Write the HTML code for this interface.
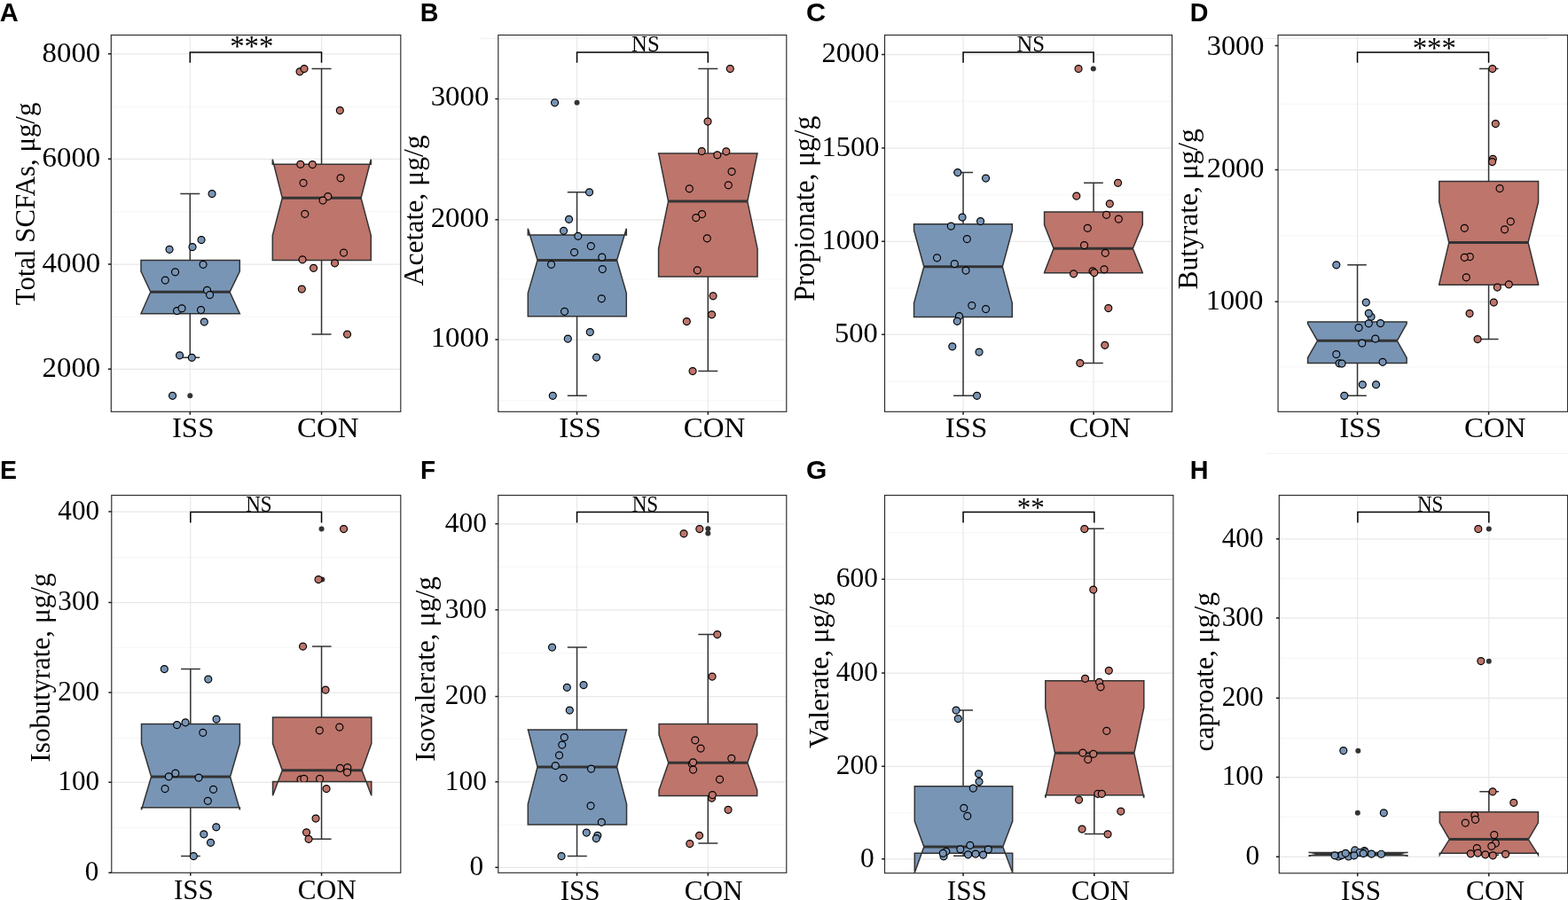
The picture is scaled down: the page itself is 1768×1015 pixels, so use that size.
<!DOCTYPE html>
<html lang="en"><head><meta charset="utf-8"><title>SCFA box plots</title>
<style>html,body{margin:0;padding:0;background:#fff}body{width:1768px;height:1015px;overflow:hidden}svg{display:block}.s{font-family:"Liberation Serif","DejaVu Serif",serif;fill:#000}.b{font-family:"Liberation Sans","DejaVu Sans",sans-serif;font-weight:bold;fill:#000}</style></head><body>
<svg width="1768" height="1015" viewBox="0 0 1768 1015" role="img" aria-label="Notched box plots of short-chain fatty acid concentrations, ISS versus CON">
<rect width="1768" height="1015" fill="#fff"/>
<g id="panel-A">
<g transform="translate(0.3 0.3)">
<clipPath id="clipA"><rect x="125" y="39.25" width="326.5" height="424.75"/></clipPath>
<g clip-path="url(#clipA)">
<line x1="125" x2="451.5" y1="120" y2="120" stroke="#f2f2f2" stroke-width="0.8"/>
<line x1="125" x2="451.5" y1="238.5" y2="238.5" stroke="#f2f2f2" stroke-width="0.8"/>
<line x1="125" x2="451.5" y1="357" y2="357" stroke="#f2f2f2" stroke-width="0.8"/>
<line x1="125" x2="451.5" y1="60.5" y2="60.5" stroke="#e8e8e8" stroke-width="1.15"/>
<line x1="125" x2="451.5" y1="179" y2="179" stroke="#e8e8e8" stroke-width="1.15"/>
<line x1="125" x2="451.5" y1="297.75" y2="297.75" stroke="#e8e8e8" stroke-width="1.15"/>
<line x1="125" x2="451.5" y1="416" y2="416" stroke="#e8e8e8" stroke-width="1.15"/>
<line x1="214" x2="214" y1="39.25" y2="464" stroke="#e8e8e8" stroke-width="1.15"/>
<line x1="362.25" x2="362.25" y1="39.25" y2="464" stroke="#e8e8e8" stroke-width="1.15"/>
<path d="M214 218.25V293.25M214 353.5V403M203 218.25H225M203 403H225" stroke="#333333" stroke-width="1.5" fill="none"/>
<polygon points="158.7,353.5 158.7,353.5 169.5,329 158.7,305.75 158.7,293.25 270,293.25 270,305.75 258.75,329 270,353.5 270,353.5" fill="#7895b6" stroke="#333333" stroke-width="1.5" stroke-linejoin="miter"/>
<line x1="169.5" x2="258.75" y1="329" y2="329" stroke="#333333" stroke-width="2.9"/>
<path d="M362.25 77.25V185M362.25 293.25V376.75M351.25 77.25H373.25M351.25 376.75H373.25" stroke="#333333" stroke-width="1.5" fill="none"/>
<polygon points="307,293.25 307,265.25 318,223 307,179.5 307,185 418,185 418,179.5 406.75,223 418,265.25 418,293.25" fill="#be756b" stroke="#333333" stroke-width="1.5" stroke-linejoin="miter"/>
<line x1="318" x2="406.75" y1="223" y2="223" stroke="#333333" stroke-width="2.9"/>
<circle cx="214" cy="446" r="3" fill="#333333"/>
<g fill="#7895b6" stroke="#000" stroke-width="1.15">
<circle cx="238.75" cy="218.25" r="4"/>
<circle cx="226.75" cy="270.25" r="4"/>
<circle cx="190.75" cy="281" r="4"/>
<circle cx="216.75" cy="278.25" r="4"/>
<circle cx="228.75" cy="298" r="4"/>
<circle cx="197.25" cy="306.5" r="4"/>
<circle cx="186" cy="315.75" r="4"/>
<circle cx="233.25" cy="327" r="4"/>
<circle cx="236.25" cy="332.25" r="4"/>
<circle cx="199.25" cy="350.25" r="4"/>
<circle cx="204.75" cy="347.5" r="4"/>
<circle cx="226.25" cy="349.25" r="4"/>
<circle cx="230" cy="362.75" r="4"/>
<circle cx="202.25" cy="400.5" r="4"/>
<circle cx="216" cy="403" r="4"/>
<circle cx="194.25" cy="446" r="4"/>
</g>
<g fill="#be756b" stroke="#000" stroke-width="1.15">
<circle cx="337.75" cy="80.5" r="4"/>
<circle cx="342.75" cy="77.25" r="4"/>
<circle cx="383" cy="124.25" r="4"/>
<circle cx="338.5" cy="185" r="4"/>
<circle cx="352" cy="185.25" r="4"/>
<circle cx="383.75" cy="200.5" r="4"/>
<circle cx="341.75" cy="206" r="4"/>
<circle cx="369.5" cy="221.25" r="4"/>
<circle cx="363.75" cy="225.75" r="4"/>
<circle cx="343.5" cy="241" r="4"/>
<circle cx="387.25" cy="284.75" r="4"/>
<circle cx="340.75" cy="292.5" r="4"/>
<circle cx="377.25" cy="296.5" r="4"/>
<circle cx="353.25" cy="302" r="4"/>
<circle cx="340" cy="325.75" r="4"/>
<circle cx="391.25" cy="376.75" r="4"/>
</g>
<path d="M214 70.4V58.75H362.25V70.4" stroke="#000" stroke-width="1.5" fill="none"/>
</g>
<rect x="125" y="39.25" width="326.5" height="424.75" fill="none" stroke="#2a2a2a" stroke-width="1.15"/>
<path d="M121.6 60.5H125M121.6 179H125M121.6 297.75H125M121.6 416H125M214 464V467.4M362.25 464V467.4" stroke="#1a1a1a" stroke-width="1.5" fill="none"/>
</g>
<text class="s" font-size="32.8" text-anchor="middle" transform="translate(283.75 62.6) scale(1 1)">***</text>
<g class="s" font-size="31.3" text-anchor="end">
<text transform="translate(113.3 69.5) scale(1.05 1)">8000</text>
<text transform="translate(113.3 188) scale(1.05 1)">6000</text>
<text transform="translate(113.3 306.75) scale(1.05 1)">4000</text>
<text transform="translate(113.3 425) scale(1.05 1)">2000</text>
</g>
<g class="s" font-size="30.8" text-anchor="middle">
<text transform="translate(217.7 492.75) scale(1.07 1)">ISS</text>
<text transform="translate(369.75 492.75) scale(1.07 1)">CON</text>
</g>
<text class="s" font-size="30.8" text-anchor="middle" transform="translate(38.6 230) rotate(-90) scale(1 1.045)">Total SCFAs, μg/g</text>
<text class="b" font-size="30" transform="translate(-0.3 24.15) scale(0.97 1)">A</text>
</g>
<g id="panel-B">
<g transform="translate(0.3 0.3)">
<clipPath id="clipB"><rect x="561.5" y="39.25" width="325" height="424.75"/></clipPath>
<line x1="542" x2="867" y1="43" y2="43" stroke="#efefef" stroke-width="1"/>
<g clip-path="url(#clipB)">
<line x1="561.5" x2="886.5" y1="179.2" y2="179.2" stroke="#f2f2f2" stroke-width="0.8"/>
<line x1="561.5" x2="886.5" y1="314.75" y2="314.75" stroke="#f2f2f2" stroke-width="0.8"/>
<line x1="561.5" x2="886.5" y1="451.5" y2="451.5" stroke="#f2f2f2" stroke-width="0.8"/>
<line x1="561.5" x2="886.5" y1="111.25" y2="111.25" stroke="#e8e8e8" stroke-width="1.15"/>
<line x1="561.5" x2="886.5" y1="247.5" y2="247.5" stroke="#e8e8e8" stroke-width="1.15"/>
<line x1="561.5" x2="886.5" y1="382.75" y2="382.75" stroke="#e8e8e8" stroke-width="1.15"/>
<line x1="650.25" x2="650.25" y1="39.25" y2="464" stroke="#e8e8e8" stroke-width="1.15"/>
<line x1="798" x2="798" y1="39.25" y2="464" stroke="#e8e8e8" stroke-width="1.15"/>
<path d="M650.25 216.5V264.75M650.25 356.5V446M639.5 216.5H661.5M639.5 446H661.5" stroke="#333333" stroke-width="1.5" fill="none"/>
<polygon points="595,356.5 595,330.25 605.75,293.25 595,257.5 595,264.75 706,264.75 706,257.5 695.25,293.25 706,330.25 706,356.5" fill="#7895b6" stroke="#333333" stroke-width="1.5" stroke-linejoin="miter"/>
<line x1="605.75" x2="695.25" y1="293.25" y2="293.25" stroke="#333333" stroke-width="2.9"/>
<path d="M798 77.25V172.75M798 311.75V418.25M787 77.25H809M787 418.25H809" stroke="#333333" stroke-width="1.5" fill="none"/>
<polygon points="742.25,311.75 742.25,280.25 753.25,226.75 742.25,172 742.25,172.75 853.75,172.75 853.75,172 842.5,226.75 853.75,280.25 853.75,311.75" fill="#be756b" stroke="#333333" stroke-width="1.5" stroke-linejoin="miter"/>
<line x1="753.25" x2="842.5" y1="226.75" y2="226.75" stroke="#333333" stroke-width="2.9"/>
<circle cx="650.25" cy="115.5" r="3" fill="#333333"/>
<g fill="#7895b6" stroke="#000" stroke-width="1.15">
<circle cx="625.25" cy="115.5" r="4"/>
<circle cx="664.25" cy="216.5" r="4"/>
<circle cx="641.25" cy="247" r="4"/>
<circle cx="635.25" cy="260" r="4"/>
<circle cx="651.5" cy="266" r="4"/>
<circle cx="666" cy="277.25" r="4"/>
<circle cx="647.25" cy="284.25" r="4"/>
<circle cx="678.5" cy="289.75" r="4"/>
<circle cx="621.25" cy="298" r="4"/>
<circle cx="679" cy="303.25" r="4"/>
<circle cx="678" cy="336.5" r="4"/>
<circle cx="636.25" cy="351" r="4"/>
<circle cx="665" cy="374.25" r="4"/>
<circle cx="640" cy="381.75" r="4"/>
<circle cx="672.25" cy="402.75" r="4"/>
<circle cx="623" cy="446" r="4"/>
</g>
<g fill="#be756b" stroke="#000" stroke-width="1.15">
<circle cx="823" cy="77.25" r="4"/>
<circle cx="797.75" cy="136.75" r="4"/>
<circle cx="791" cy="170.25" r="4"/>
<circle cx="808.5" cy="174.5" r="4"/>
<circle cx="818.5" cy="170.5" r="4"/>
<circle cx="824.75" cy="193.25" r="4"/>
<circle cx="777" cy="212.5" r="4"/>
<circle cx="821" cy="208.5" r="4"/>
<circle cx="791.25" cy="241.25" r="4"/>
<circle cx="784.5" cy="245.25" r="4"/>
<circle cx="797" cy="268.5" r="4"/>
<circle cx="786" cy="304.5" r="4"/>
<circle cx="803.75" cy="333.5" r="4"/>
<circle cx="802.25" cy="354.5" r="4"/>
<circle cx="774" cy="362.25" r="4"/>
<circle cx="780.75" cy="418.25" r="4"/>
</g>
<path d="M650.25 70.4V58.75H798V70.4" stroke="#000" stroke-width="1.5" fill="none"/>
</g>
<rect x="561.5" y="39.25" width="325" height="424.75" fill="none" stroke="#2a2a2a" stroke-width="1.15"/>
<path d="M558.1 111.25H561.5M558.1 247.5H561.5M558.1 382.75H561.5M650.25 464V467.4M798 464V467.4" stroke="#1a1a1a" stroke-width="1.5" fill="none"/>
</g>
<text class="s" font-size="24.2" text-anchor="middle" transform="translate(727.9 57.5) scale(1.02 1)">NS</text>
<g class="s" font-size="31.3" text-anchor="end">
<text transform="translate(551.4 119.45) scale(1.05 1)">3000</text>
<text transform="translate(551.4 255.7) scale(1.05 1)">2000</text>
<text transform="translate(551.4 390.95) scale(1.05 1)">1000</text>
</g>
<g class="s" font-size="30.8" text-anchor="middle">
<text transform="translate(653.95 492.75) scale(1.07 1)">ISS</text>
<text transform="translate(805.5 492.75) scale(1.07 1)">CON</text>
</g>
<text class="s" font-size="30.8" text-anchor="middle" transform="translate(476.5 237.4) rotate(-90) scale(1.029 1.045)">Acetate, μg/g</text>
<text class="b" font-size="30" transform="translate(473.85 24.15) scale(0.955 1)">B</text>
</g>
<g id="panel-C">
<g transform="translate(0.3 0.3)">
<clipPath id="clipC"><rect x="997.25" y="39.25" width="324" height="424.75"/></clipPath>
<g clip-path="url(#clipC)">
<line x1="997.25" x2="1321.25" y1="114" y2="114" stroke="#f2f2f2" stroke-width="0.8"/>
<line x1="997.25" x2="1321.25" y1="219.4" y2="219.4" stroke="#f2f2f2" stroke-width="0.8"/>
<line x1="997.25" x2="1321.25" y1="324.7" y2="324.7" stroke="#f2f2f2" stroke-width="0.8"/>
<line x1="997.25" x2="1321.25" y1="430" y2="430" stroke="#f2f2f2" stroke-width="0.8"/>
<line x1="997.25" x2="1321.25" y1="61.25" y2="61.25" stroke="#e8e8e8" stroke-width="1.15"/>
<line x1="997.25" x2="1321.25" y1="166.75" y2="166.75" stroke="#e8e8e8" stroke-width="1.15"/>
<line x1="997.25" x2="1321.25" y1="272" y2="272" stroke="#e8e8e8" stroke-width="1.15"/>
<line x1="997.25" x2="1321.25" y1="377" y2="377" stroke="#e8e8e8" stroke-width="1.15"/>
<line x1="1085.75" x2="1085.75" y1="39.25" y2="464" stroke="#e8e8e8" stroke-width="1.15"/>
<line x1="1232.75" x2="1232.75" y1="39.25" y2="464" stroke="#e8e8e8" stroke-width="1.15"/>
<path d="M1085.75 194.25V252.5M1085.75 357.25V446M1074.75 194.25H1096.75M1074.75 446H1096.75" stroke="#333333" stroke-width="1.5" fill="none"/>
<polygon points="1030.25,357.25 1030.25,341.5 1041.5,300.5 1030.25,259.5 1030.25,252.5 1141,252.5 1141,259.5 1130,300.5 1141,341.5 1141,357.25" fill="#7895b6" stroke="#333333" stroke-width="1.5" stroke-linejoin="miter"/>
<line x1="1041.5" x2="1130" y1="300.5" y2="300.5" stroke="#333333" stroke-width="2.9"/>
<path d="M1232.75 206V238.75M1232.75 307.5V409.25M1221.75 206H1243.5M1221.75 409.25H1243.5" stroke="#333333" stroke-width="1.5" fill="none"/>
<polygon points="1177.25,307.5 1177.25,307.2 1187.75,280 1177.25,253.3 1177.25,238.75 1288,238.75 1288,253.3 1277,280 1288,307.2 1288,307.5" fill="#be756b" stroke="#333333" stroke-width="1.5" stroke-linejoin="miter"/>
<line x1="1187.75" x2="1277" y1="280" y2="280" stroke="#333333" stroke-width="2.9"/>
<circle cx="1232.5" cy="77.25" r="3" fill="#333333"/>
<g fill="#7895b6" stroke="#000" stroke-width="1.15">
<circle cx="1079.5" cy="194.25" r="4"/>
<circle cx="1111.25" cy="200.75" r="4"/>
<circle cx="1084.75" cy="244.75" r="4"/>
<circle cx="1105.25" cy="249.25" r="4"/>
<circle cx="1072" cy="254.75" r="4"/>
<circle cx="1090" cy="269.25" r="4"/>
<circle cx="1056.25" cy="290.5" r="4"/>
<circle cx="1076" cy="297.25" r="4"/>
<circle cx="1088.75" cy="304.75" r="4"/>
<circle cx="1095.5" cy="344.25" r="4"/>
<circle cx="1111.25" cy="348.25" r="4"/>
<circle cx="1081.25" cy="356.25" r="4"/>
<circle cx="1079" cy="362" r="4"/>
<circle cx="1073.5" cy="390.5" r="4"/>
<circle cx="1103.75" cy="396.75" r="4"/>
<circle cx="1101.25" cy="446" r="4"/>
</g>
<g fill="#be756b" stroke="#000" stroke-width="1.15">
<circle cx="1215.75" cy="77.25" r="4"/>
<circle cx="1260.25" cy="206" r="4"/>
<circle cx="1213.5" cy="220.75" r="4"/>
<circle cx="1251" cy="229.5" r="4"/>
<circle cx="1247.25" cy="242" r="4"/>
<circle cx="1261" cy="246.75" r="4"/>
<circle cx="1226" cy="257" r="4"/>
<circle cx="1222.25" cy="276.25" r="4"/>
<circle cx="1246" cy="285" r="4"/>
<circle cx="1244.75" cy="303.5" r="4"/>
<circle cx="1231.75" cy="305.5" r="4"/>
<circle cx="1233.5" cy="307.25" r="4"/>
<circle cx="1210.25" cy="308.5" r="4"/>
<circle cx="1249.5" cy="347.25" r="4"/>
<circle cx="1245.5" cy="389" r="4"/>
<circle cx="1217.5" cy="409.25" r="4"/>
</g>
<path d="M1085.75 70.4V58.75H1232.75V70.4" stroke="#000" stroke-width="1.5" fill="none"/>
</g>
<rect x="997.25" y="39.25" width="324" height="424.75" fill="none" stroke="#2a2a2a" stroke-width="1.15"/>
<path d="M993.85 61.25H997.25M993.85 166.75H997.25M993.85 272H997.25M993.85 377H997.25M1085.75 464V467.4M1232.75 464V467.4" stroke="#1a1a1a" stroke-width="1.5" fill="none"/>
</g>
<text class="s" font-size="24.2" text-anchor="middle" transform="translate(1162.25 57.5) scale(1.02 1)">NS</text>
<g class="s" font-size="31.3" text-anchor="end">
<text transform="translate(991.6 70.25) scale(1.04 1)">2000</text>
<text transform="translate(991.6 175.75) scale(1.04 1)">1500</text>
<text transform="translate(991.6 281) scale(1.04 1)">1000</text>
<text transform="translate(989.85 386) scale(1.04 1)">500</text>
</g>
<g class="s" font-size="30.8" text-anchor="middle">
<text transform="translate(1089.45 492.75) scale(1.07 1)">ISS</text>
<text transform="translate(1240.25 492.75) scale(1.07 1)">CON</text>
</g>
<text class="s" font-size="30.8" text-anchor="middle" transform="translate(918.3 235.3) rotate(-90) scale(1.022 1.09)">Propionate, μg/g</text>
<text class="b" font-size="30" transform="translate(909 24.15) scale(1.02 1)">C</text>
</g>
<g id="panel-D">
<g transform="translate(0.3 0.3)">
<clipPath id="clipD"><rect x="1440.75" y="39.25" width="326.55" height="424.75"/></clipPath>
<line x1="1426" x2="1746" y1="43" y2="43" stroke="#e9e9e9" stroke-width="1.1"/>
<g clip-path="url(#clipD)">
<line x1="1440.75" x2="1767.3" y1="117" y2="117" stroke="#f2f2f2" stroke-width="0.8"/>
<line x1="1440.75" x2="1767.3" y1="265.5" y2="265.5" stroke="#f2f2f2" stroke-width="0.8"/>
<line x1="1440.75" x2="1767.3" y1="413.5" y2="413.5" stroke="#f2f2f2" stroke-width="0.8"/>
<line x1="1440.75" x2="1767.3" y1="191.25" y2="191.25" stroke="#e8e8e8" stroke-width="1.15"/>
<line x1="1440.75" x2="1767.3" y1="340" y2="340" stroke="#e8e8e8" stroke-width="1.15"/>
<line x1="1530.25" x2="1530.25" y1="39.25" y2="464" stroke="#e8e8e8" stroke-width="1.15"/>
<line x1="1678.25" x2="1678.25" y1="39.25" y2="464" stroke="#e8e8e8" stroke-width="1.15"/>
<path d="M1530.25 298.5V362.75M1530.25 409.25V446M1519 298.5H1540.5M1519 446H1540.5" stroke="#333333" stroke-width="1.5" fill="none"/>
<polygon points="1474.25,409.25 1474.25,403.25 1485.25,384 1474.25,364.75 1474.25,362.75 1585.8,362.75 1585.8,364.75 1575,384 1585.8,403.25 1585.8,409.25" fill="#7895b6" stroke="#333333" stroke-width="1.5" stroke-linejoin="miter"/>
<line x1="1485.25" x2="1575" y1="384" y2="384" stroke="#333333" stroke-width="2.9"/>
<path d="M1678.25 77.25V204.25M1678.25 321V382.25M1667.75 77.25H1689.25M1667.75 382.25H1689.25" stroke="#333333" stroke-width="1.5" fill="none"/>
<polygon points="1622.5,321 1622.5,320 1633.5,273.25 1622.5,227.5 1622.5,204.25 1734.25,204.25 1734.25,227.5 1722.75,273.25 1734.25,320 1734.25,321" fill="#be756b" stroke="#333333" stroke-width="1.5" stroke-linejoin="miter"/>
<line x1="1633.5" x2="1722.75" y1="273.25" y2="273.25" stroke="#333333" stroke-width="2.9"/>
<g fill="#7895b6" stroke="#000" stroke-width="1.15">
<circle cx="1506.5" cy="298.5" r="4"/>
<circle cx="1540" cy="340.75" r="4"/>
<circle cx="1545.75" cy="357" r="4"/>
<circle cx="1543" cy="353" r="4"/>
<circle cx="1543" cy="364.5" r="4"/>
<circle cx="1556.25" cy="364.25" r="4"/>
<circle cx="1531.75" cy="369.25" r="4"/>
<circle cx="1550.5" cy="381.75" r="4"/>
<circle cx="1535.5" cy="386.75" r="4"/>
<circle cx="1506.5" cy="399.25" r="4"/>
<circle cx="1509.75" cy="409.5" r="4"/>
<circle cx="1512.75" cy="409.75" r="4"/>
<circle cx="1558.75" cy="408" r="4"/>
<circle cx="1536" cy="433.5" r="4"/>
<circle cx="1551.25" cy="433.5" r="4"/>
<circle cx="1515.5" cy="446" r="4"/>
</g>
<g fill="#be756b" stroke="#000" stroke-width="1.15">
<circle cx="1682.5" cy="77.25" r="4"/>
<circle cx="1686" cy="139.25" r="4"/>
<circle cx="1683" cy="179" r="4"/>
<circle cx="1682.25" cy="182.25" r="4"/>
<circle cx="1690.75" cy="212.25" r="4"/>
<circle cx="1703" cy="249.5" r="4"/>
<circle cx="1651" cy="257" r="4"/>
<circle cx="1696.25" cy="258.5" r="4"/>
<circle cx="1657" cy="289.25" r="4"/>
<circle cx="1651" cy="290" r="4"/>
<circle cx="1653" cy="312.5" r="4"/>
<circle cx="1701" cy="320.5" r="4"/>
<circle cx="1688" cy="323.75" r="4"/>
<circle cx="1684" cy="340.75" r="4"/>
<circle cx="1656.75" cy="353.25" r="4"/>
<circle cx="1665.75" cy="382.25" r="4"/>
</g>
<path d="M1530.25 70.4V58.75H1678.25V70.4" stroke="#000" stroke-width="1.5" fill="none"/>
</g>
<rect x="1440.75" y="39.25" width="326.55" height="424.75" fill="none" stroke="#2a2a2a" stroke-width="1.15"/>
<path d="M1437.35 51.25H1440.75M1437.35 191.25H1440.75M1437.35 340H1440.75M1530.25 464V467.4M1678.25 464V467.4" stroke="#1a1a1a" stroke-width="1.5" fill="none"/>
</g>
<text class="s" font-size="32.8" text-anchor="middle" transform="translate(1617.25 64.6) scale(1 1)">***</text>
<g class="s" font-size="31.3" text-anchor="end">
<text transform="translate(1425.5 61.5) scale(1.035 1)">3000</text>
<text transform="translate(1425.5 200.25) scale(1.035 1)">2000</text>
<text transform="translate(1424.5 349) scale(1.035 1)">1000</text>
</g>
<g class="s" font-size="30.8" text-anchor="middle">
<text transform="translate(1533.95 493.2) scale(1.07 1)">ISS</text>
<text transform="translate(1685.75 493.2) scale(1.07 1)">CON</text>
</g>
<text class="s" font-size="30.8" text-anchor="middle" transform="translate(1349.6 235.8) rotate(-90) scale(1.022 1.045)">Butyrate, μg/g</text>
<text class="b" font-size="30" transform="translate(1341.7 24.15) scale(0.957 1)">D</text>
</g>
<g id="panel-E">
<g transform="translate(0.3 0.3)">
<clipPath id="clipE"><rect x="125.5" y="558.25" width="326" height="425.75"/></clipPath>
<g clip-path="url(#clipE)">
<line x1="125.5" x2="451.5" y1="628.25" y2="628.25" stroke="#f2f2f2" stroke-width="0.8"/>
<line x1="125.5" x2="451.5" y1="730" y2="730" stroke="#f2f2f2" stroke-width="0.8"/>
<line x1="125.5" x2="451.5" y1="832" y2="832" stroke="#f2f2f2" stroke-width="0.8"/>
<line x1="125.5" x2="451.5" y1="933" y2="933" stroke="#f2f2f2" stroke-width="0.8"/>
<line x1="125.5" x2="451.5" y1="576.75" y2="576.75" stroke="#e8e8e8" stroke-width="1.15"/>
<line x1="125.5" x2="451.5" y1="679.25" y2="679.25" stroke="#e8e8e8" stroke-width="1.15"/>
<line x1="125.5" x2="451.5" y1="780.75" y2="780.75" stroke="#e8e8e8" stroke-width="1.15"/>
<line x1="125.5" x2="451.5" y1="882" y2="882" stroke="#e8e8e8" stroke-width="1.15"/>
<line x1="125.5" x2="451.5" y1="984" y2="984" stroke="#e8e8e8" stroke-width="1.15"/>
<line x1="214.5" x2="214.5" y1="558.25" y2="984" stroke="#e8e8e8" stroke-width="1.15"/>
<line x1="362.25" x2="362.25" y1="558.25" y2="984" stroke="#e8e8e8" stroke-width="1.15"/>
<path d="M214.5 754.25V816.25M214.5 910.5V965.25M203.75 754.25H225.5M203.75 965.25H225.5" stroke="#333333" stroke-width="1.5" fill="none"/>
<polygon points="159.2,910.5 159.2,913 170.25,875.75 159.2,838.25 159.2,816.25 270.1,816.25 270.1,838.25 259.25,875.75 270.1,913 270.1,910.5" fill="#7895b6" stroke="#333333" stroke-width="1.5" stroke-linejoin="miter"/>
<line x1="170.25" x2="259.25" y1="875.75" y2="875.75" stroke="#333333" stroke-width="2.9"/>
<path d="M362.25 728.75V808.75M362.25 881.25V946M351.75 728.75H373.25M351.75 946H373.25" stroke="#333333" stroke-width="1.5" fill="none"/>
<polygon points="307.25,881.25 307.25,897 318,868.5 307.25,838.25 307.25,808.75 418.5,808.75 418.5,838.25 407.75,868.5 418.5,897 418.5,881.25" fill="#be756b" stroke="#333333" stroke-width="1.5" stroke-linejoin="miter"/>
<line x1="318" x2="407.75" y1="868.5" y2="868.5" stroke="#333333" stroke-width="2.9"/>
<circle cx="362.25" cy="596.25" r="3" fill="#333333"/>
<circle cx="363" cy="653.25" r="3" fill="#333333"/>
<clipPath id="cutE0"><rect x="300" y="860" width="120" height="21.4"/></clipPath>
<g fill="#7895b6" stroke="#000" stroke-width="1.15">
<circle cx="185" cy="754.25" r="4"/>
<circle cx="234.5" cy="765.75" r="4"/>
<circle cx="243.75" cy="810.75" r="4"/>
<circle cx="208.75" cy="814.5" r="4"/>
<circle cx="199.25" cy="817.25" r="4"/>
<circle cx="228.5" cy="826" r="4"/>
<circle cx="197.5" cy="871.75" r="4"/>
<circle cx="190" cy="875.5" r="4"/>
<circle cx="223.75" cy="876.75" r="4"/>
<circle cx="185.75" cy="889.25" r="4"/>
<circle cx="240.25" cy="890" r="4"/>
<circle cx="234" cy="903" r="4"/>
<circle cx="243.5" cy="932.5" r="4"/>
<circle cx="229.5" cy="940.5" r="4"/>
<circle cx="237.25" cy="950" r="4"/>
<circle cx="218" cy="965.25" r="4"/>
</g>
<g fill="#be756b" stroke="#000" stroke-width="1.15">
<circle cx="387.25" cy="596.25" r="4"/>
<circle cx="358.75" cy="653.25" r="4"/>
<circle cx="341.25" cy="728.75" r="4"/>
<circle cx="366.75" cy="777.75" r="4"/>
<circle cx="382.5" cy="819.75" r="4"/>
<circle cx="360" cy="823.5" r="4"/>
<circle cx="383.25" cy="866" r="4"/>
<circle cx="391.5" cy="865.25" r="4"/>
<circle cx="391.25" cy="870.75" r="4"/>
<circle cx="338.75" cy="878.75" r="4" clip-path="url(#cutE0)"/>
<circle cx="342.5" cy="878" r="4" clip-path="url(#cutE0)"/>
<circle cx="360.25" cy="878" r="4" clip-path="url(#cutE0)"/>
<circle cx="367.75" cy="889.25" r="4"/>
<circle cx="355.75" cy="922.75" r="4"/>
<circle cx="345.25" cy="938.5" r="4"/>
<circle cx="347.75" cy="946" r="4"/>
</g>
<path d="M214.5 589.25V577.25H362.25V589.25" stroke="#000" stroke-width="1.5" fill="none"/>
</g>
<rect x="125.5" y="558.25" width="326" height="425.75" fill="none" stroke="#2a2a2a" stroke-width="1.15"/>
<path d="M122.1 576.75H125.5M122.1 679.25H125.5M122.1 780.75H125.5M122.1 882H125.5M122.1 984H125.5M214.5 984V987.4M362.25 984V987.4" stroke="#1a1a1a" stroke-width="1.5" fill="none"/>
</g>
<text class="s" font-size="24.8" text-anchor="middle" transform="translate(291.95 576.7) scale(0.93 1)">NS</text>
<g class="s" font-size="31.3" text-anchor="end">
<text transform="translate(112.1 585.75) scale(0.996 1)">400</text>
<text transform="translate(112.1 688.25) scale(0.996 1)">300</text>
<text transform="translate(112.1 789.75) scale(0.996 1)">200</text>
<text transform="translate(112.1 891) scale(0.996 1)">100</text>
<text transform="translate(111.35 993) scale(0.996 1)">0</text>
</g>
<g class="s" font-size="30.8" text-anchor="middle">
<text transform="translate(218.4 1014.25) scale(1.012 1)">ISS</text>
<text transform="translate(368.75 1014.25) scale(1.012 1)">CON</text>
</g>
<text class="s" font-size="30.8" text-anchor="middle" transform="translate(56.25 753) rotate(-90) scale(1.018 1.03)">Isobutyrate, μg/g</text>
<text class="b" font-size="30" transform="translate(0 540.35) scale(0.95 1)">E</text>
</g>
<g id="panel-F">
<g transform="translate(0.3 0.3)">
<clipPath id="clipF"><rect x="561.5" y="558.25" width="325" height="425.75"/></clipPath>
<g clip-path="url(#clipF)">
<line x1="561.5" x2="886.5" y1="639" y2="639" stroke="#f2f2f2" stroke-width="0.8"/>
<line x1="561.5" x2="886.5" y1="736.4" y2="736.4" stroke="#f2f2f2" stroke-width="0.8"/>
<line x1="561.5" x2="886.5" y1="833.4" y2="833.4" stroke="#f2f2f2" stroke-width="0.8"/>
<line x1="561.5" x2="886.5" y1="929.75" y2="929.75" stroke="#f2f2f2" stroke-width="0.8"/>
<line x1="561.5" x2="886.5" y1="590.5" y2="590.5" stroke="#e8e8e8" stroke-width="1.15"/>
<line x1="561.5" x2="886.5" y1="687.5" y2="687.5" stroke="#e8e8e8" stroke-width="1.15"/>
<line x1="561.5" x2="886.5" y1="785.25" y2="785.25" stroke="#e8e8e8" stroke-width="1.15"/>
<line x1="561.5" x2="886.5" y1="881.5" y2="881.5" stroke="#e8e8e8" stroke-width="1.15"/>
<line x1="561.5" x2="886.5" y1="978" y2="978" stroke="#e8e8e8" stroke-width="1.15"/>
<line x1="650.25" x2="650.25" y1="558.25" y2="984" stroke="#e8e8e8" stroke-width="1.15"/>
<line x1="798" x2="798" y1="558.25" y2="984" stroke="#e8e8e8" stroke-width="1.15"/>
<path d="M650.25 729.75V822.75M650.25 929.75V965.25M639.5 729.75H661.5M639.5 965.25H661.5" stroke="#333333" stroke-width="1.5" fill="none"/>
<polygon points="595,929.75 595,906.5 605.75,864.75 595,822 595,822.75 706.25,822.75 706.25,822 695.25,864.75 706.25,906.5 706.25,929.75" fill="#7895b6" stroke="#333333" stroke-width="1.5" stroke-linejoin="miter"/>
<line x1="605.75" x2="695.25" y1="864.75" y2="864.75" stroke="#333333" stroke-width="2.9"/>
<path d="M798 715.25V816.25M798 897.25V950.75M787 715.25H809M787 950.75H809" stroke="#333333" stroke-width="1.5" fill="none"/>
<polygon points="742.75,897.25 742.75,890.75 753.5,859.9 742.75,828.25 742.75,816.25 853.4,816.25 853.4,828.25 842.5,859.9 853.4,890.75 853.4,897.25" fill="#be756b" stroke="#333333" stroke-width="1.5" stroke-linejoin="miter"/>
<line x1="753.5" x2="842.5" y1="859.9" y2="859.9" stroke="#333333" stroke-width="2.9"/>
<circle cx="798" cy="596" r="3" fill="#333333"/>
<circle cx="798" cy="601.25" r="3" fill="#333333"/>
<g fill="#7895b6" stroke="#000" stroke-width="1.15">
<circle cx="622.25" cy="729.75" r="4"/>
<circle cx="639" cy="775" r="4"/>
<circle cx="657.75" cy="772.25" r="4"/>
<circle cx="642" cy="800.75" r="4"/>
<circle cx="636" cy="831.25" r="4"/>
<circle cx="633.5" cy="839.75" r="4"/>
<circle cx="630.25" cy="851.5" r="4"/>
<circle cx="626" cy="863.25" r="4"/>
<circle cx="666.25" cy="866.75" r="4"/>
<circle cx="635" cy="877" r="4"/>
<circle cx="665.75" cy="908.5" r="4"/>
<circle cx="678" cy="927" r="4"/>
<circle cx="661" cy="938.75" r="4"/>
<circle cx="673.5" cy="942" r="4"/>
<circle cx="672" cy="945.25" r="4"/>
<circle cx="632.75" cy="965.25" r="4"/>
</g>
<g fill="#be756b" stroke="#000" stroke-width="1.15">
<circle cx="770.75" cy="601.5" r="4"/>
<circle cx="788.5" cy="596.25" r="4"/>
<circle cx="808.5" cy="715.25" r="4"/>
<circle cx="802.75" cy="762.75" r="4"/>
<circle cx="783.5" cy="834.5" r="4"/>
<circle cx="789.75" cy="843.75" r="4"/>
<circle cx="824.5" cy="855" r="4"/>
<circle cx="779.9" cy="861.2" r="4"/>
<circle cx="781.25" cy="859.5" r="4"/>
<circle cx="781.25" cy="867.75" r="4"/>
<circle cx="811.25" cy="878.75" r="4"/>
<circle cx="802.25" cy="899.75" r="4"/>
<circle cx="803" cy="896.25" r="4"/>
<circle cx="820.75" cy="913" r="4"/>
<circle cx="788.25" cy="942" r="4"/>
<circle cx="777.5" cy="951.25" r="4"/>
</g>
<path d="M650.25 589.25V577.25H798V589.25" stroke="#000" stroke-width="1.5" fill="none"/>
</g>
<rect x="561.5" y="558.25" width="325" height="425.75" fill="none" stroke="#2a2a2a" stroke-width="1.15"/>
<path d="M558.1 590.5H561.5M558.1 687.5H561.5M558.1 785.25H561.5M558.1 881.5H561.5M558.1 978H561.5M650.25 984V987.4M798 984V987.4" stroke="#1a1a1a" stroke-width="1.5" fill="none"/>
</g>
<text class="s" font-size="24.8" text-anchor="middle" transform="translate(727.45 576.7) scale(0.93 1)">NS</text>
<g class="s" font-size="31.3" text-anchor="end">
<text transform="translate(548.8 599.5) scale(1 1)">400</text>
<text transform="translate(548.8 696.5) scale(1 1)">300</text>
<text transform="translate(548.8 794.25) scale(1 1)">200</text>
<text transform="translate(548.8 890.5) scale(1 1)">100</text>
<text transform="translate(545.05 987) scale(1 1)">0</text>
</g>
<g class="s" font-size="30.8" text-anchor="middle">
<text transform="translate(654.15 1014.95) scale(1.012 1)">ISS</text>
<text transform="translate(804.7 1014.95) scale(1.012 1)">CON</text>
</g>
<text class="s" font-size="30.8" text-anchor="middle" transform="translate(489.75 754.5) rotate(-90) scale(1.011 1.045)">Isovalerate, μg/g</text>
<text class="b" font-size="30" transform="translate(474 540.35) scale(0.93 1)">F</text>
</g>
<g id="panel-G">
<g transform="translate(0.3 0.3)">
<clipPath id="clipG"><rect x="997.25" y="558.25" width="325.35" height="426.15"/></clipPath>
<g clip-path="url(#clipG)">
<line x1="997.25" x2="1322.6" y1="600.5" y2="600.5" stroke="#f2f2f2" stroke-width="0.8"/>
<line x1="997.25" x2="1322.6" y1="706" y2="706" stroke="#f2f2f2" stroke-width="0.8"/>
<line x1="997.25" x2="1322.6" y1="811.5" y2="811.5" stroke="#f2f2f2" stroke-width="0.8"/>
<line x1="997.25" x2="1322.6" y1="916.5" y2="916.5" stroke="#f2f2f2" stroke-width="0.8"/>
<line x1="997.25" x2="1322.6" y1="653" y2="653" stroke="#e8e8e8" stroke-width="1.15"/>
<line x1="997.25" x2="1322.6" y1="758.75" y2="758.75" stroke="#e8e8e8" stroke-width="1.15"/>
<line x1="997.25" x2="1322.6" y1="864" y2="864" stroke="#e8e8e8" stroke-width="1.15"/>
<line x1="997.25" x2="1322.6" y1="968.5" y2="968.5" stroke="#e8e8e8" stroke-width="1.15"/>
<line x1="1085.75" x2="1085.75" y1="558.25" y2="984.4" stroke="#e8e8e8" stroke-width="1.15"/>
<line x1="1233.5" x2="1233.5" y1="558.25" y2="984.4" stroke="#e8e8e8" stroke-width="1.15"/>
<path d="M1085.75 800.75V886.5M1085.75 962V965M1074.75 800.75H1096.75M1074.75 965H1096.75" stroke="#333333" stroke-width="1.5" fill="none"/>
<polygon points="1031,962 1031,984 1041.5,954.75 1031,925.75 1031,886.5 1141.4,886.5 1141.4,925.75 1130.5,954.75 1141.4,984 1141.4,962" fill="#7895b6" stroke="#333333" stroke-width="1.5" stroke-linejoin="miter"/>
<line x1="1041.5" x2="1130.5" y1="954.75" y2="954.75" stroke="#333333" stroke-width="2.9"/>
<path d="M1233.5 596V767.5M1233.5 896.5V940.25M1222.5 596H1244.5M1222.5 940.25H1244.5" stroke="#333333" stroke-width="1.5" fill="none"/>
<polygon points="1178.5,896.5 1178.5,899.5 1189.25,849 1178.5,797.75 1178.5,767.5 1289.5,767.5 1289.5,797.75 1278.5,849 1289.5,899.5 1289.5,896.5" fill="#be756b" stroke="#333333" stroke-width="1.5" stroke-linejoin="miter"/>
<line x1="1189.25" x2="1278.5" y1="849" y2="849" stroke="#333333" stroke-width="2.9"/>
<g fill="#7895b6" stroke="#000" stroke-width="1.15">
<circle cx="1077.75" cy="800.75" r="4"/>
<circle cx="1080" cy="810.25" r="4"/>
<circle cx="1103.25" cy="872.5" r="4"/>
<circle cx="1103.75" cy="881.25" r="4"/>
<circle cx="1097" cy="888.75" r="4"/>
<circle cx="1086.5" cy="911" r="4"/>
<circle cx="1090.5" cy="920" r="4"/>
<circle cx="1093.5" cy="953" r="4"/>
<circle cx="1082.5" cy="957.5" r="4"/>
<circle cx="1114" cy="957.75" r="4"/>
<circle cx="1063.75" cy="965.5" r="4"/>
<circle cx="1066.5" cy="960" r="4"/>
<circle cx="1063" cy="962" r="4"/>
<circle cx="1091.25" cy="963.5" r="4"/>
<circle cx="1099.75" cy="962.75" r="4"/>
<circle cx="1108.25" cy="963.75" r="4"/>
</g>
<g fill="#be756b" stroke="#000" stroke-width="1.15">
<circle cx="1222.5" cy="596.25" r="4"/>
<circle cx="1232.5" cy="664.75" r="4"/>
<circle cx="1250" cy="756" r="4"/>
<circle cx="1223.25" cy="765" r="4"/>
<circle cx="1239.25" cy="769" r="4"/>
<circle cx="1240.75" cy="774.5" r="4"/>
<circle cx="1247.5" cy="824" r="4"/>
<circle cx="1220.5" cy="848.75" r="4"/>
<circle cx="1232.5" cy="850" r="4"/>
<circle cx="1226.5" cy="856.25" r="4"/>
<circle cx="1237.5" cy="895" r="4"/>
<circle cx="1242" cy="895" r="4"/>
<circle cx="1216.25" cy="901.75" r="4"/>
<circle cx="1263.5" cy="914.75" r="4"/>
<circle cx="1219.75" cy="934.75" r="4"/>
<circle cx="1248.75" cy="940.5" r="4"/>
</g>
<path d="M1085.75 589.25V577.25H1233.5V589.25" stroke="#000" stroke-width="1.5" fill="none"/>
</g>
<rect x="997.25" y="558.25" width="325.35" height="426.15" fill="none" stroke="#2a2a2a" stroke-width="1.15"/>
<path d="M993.85 653H997.25M993.85 758.75H997.25M993.85 864H997.25M993.85 968.5H997.25M1085.75 984.4V987.8M1233.5 984.4V987.8" stroke="#1a1a1a" stroke-width="1.5" fill="none"/>
</g>
<text class="s" font-size="32" text-anchor="middle" transform="translate(1162.3 583.4) scale(0.97 1)">**</text>
<g class="s" font-size="31.3" text-anchor="end">
<text transform="translate(990 662) scale(1.006 1)">600</text>
<text transform="translate(990 767.75) scale(1.006 1)">400</text>
<text transform="translate(990 873) scale(1.006 1)">200</text>
<text transform="translate(985.75 977.5) scale(1.006 1)">0</text>
</g>
<g class="s" font-size="30.8" text-anchor="middle">
<text transform="translate(1090.35 1014.9) scale(1.012 1)">ISS</text>
<text transform="translate(1241 1014.9) scale(1.012 1)">CON</text>
</g>
<text class="s" font-size="30.8" text-anchor="middle" transform="translate(933.5 756) rotate(-90) scale(1.022 1.045)">Valerate, μg/g</text>
<text class="b" font-size="30" transform="translate(909 540.35) scale(1 1)">G</text>
</g>
<g id="panel-H">
<g transform="translate(0.3 0.3)">
<clipPath id="clipH"><rect x="1442" y="558.25" width="325.3" height="426.25"/></clipPath>
<line x1="1427" x2="1768" y1="511" y2="511" stroke="#f0f0f0" stroke-width="0.9"/>
<g clip-path="url(#clipH)">
<line x1="1442" x2="1767.3" y1="652.25" y2="652.25" stroke="#f2f2f2" stroke-width="0.8"/>
<line x1="1442" x2="1767.3" y1="742" y2="742" stroke="#f2f2f2" stroke-width="0.8"/>
<line x1="1442" x2="1767.3" y1="832.25" y2="832.25" stroke="#f2f2f2" stroke-width="0.8"/>
<line x1="1442" x2="1767.3" y1="921" y2="921" stroke="#f2f2f2" stroke-width="0.8"/>
<line x1="1442" x2="1767.3" y1="607.5" y2="607.5" stroke="#e8e8e8" stroke-width="1.15"/>
<line x1="1442" x2="1767.3" y1="696.75" y2="696.75" stroke="#e8e8e8" stroke-width="1.15"/>
<line x1="1442" x2="1767.3" y1="787" y2="787" stroke="#e8e8e8" stroke-width="1.15"/>
<line x1="1442" x2="1767.3" y1="876.25" y2="876.25" stroke="#e8e8e8" stroke-width="1.15"/>
<line x1="1442" x2="1767.3" y1="966" y2="966" stroke="#e8e8e8" stroke-width="1.15"/>
<line x1="1530.4" x2="1530.4" y1="558.25" y2="984.5" stroke="#e8e8e8" stroke-width="1.15"/>
<line x1="1678.5" x2="1678.5" y1="558.25" y2="984.5" stroke="#e8e8e8" stroke-width="1.15"/>
<path d="M1530.6 961.25V961.25M1530.6 964.5V964.5M1520 961.25H1542M1520 964.5H1542" stroke="#333333" stroke-width="1.5" fill="none"/>
<polygon points="1476,964.5 1476,965 1487,962.75 1476,961 1476,961.25 1586.5,961.25 1586.5,961 1575.5,962.75 1586.5,965 1586.5,964.5" fill="#7895b6" stroke="#333333" stroke-width="1.5" stroke-linejoin="miter"/>
<line x1="1487" x2="1575.5" y1="962.75" y2="962.75" stroke="#333333" stroke-width="2.9"/>
<path d="M1678.5 892.5V915.5M1678.5 962V964M1668 892.5H1689.75M1668 964H1689.75" stroke="#333333" stroke-width="1.5" fill="none"/>
<polygon points="1623,962 1623,963.8 1634,946.25 1623,927.5 1623,915.5 1734.1,915.5 1734.1,927.5 1723,946.25 1734.1,963.8 1734.1,962" fill="#be756b" stroke="#333333" stroke-width="1.5" stroke-linejoin="miter"/>
<line x1="1634" x2="1723" y1="946.25" y2="946.25" stroke="#333333" stroke-width="2.9"/>
<circle cx="1531" cy="846.5" r="3" fill="#333333"/>
<circle cx="1530.5" cy="916.5" r="3" fill="#333333"/>
<circle cx="1678.5" cy="596.25" r="3" fill="#333333"/>
<circle cx="1678.5" cy="745.5" r="3" fill="#333333"/>
<g fill="#7895b6" stroke="#000" stroke-width="1.15">
<circle cx="1514.5" cy="846.25" r="4"/>
<circle cx="1560" cy="916.5" r="4"/>
<circle cx="1510.7" cy="964.9" r="4"/>
<circle cx="1508.79" cy="965.73" r="4"/>
<circle cx="1512.59" cy="964.14" r="4"/>
<circle cx="1520.27" cy="965.73" r="4"/>
<circle cx="1527.4" cy="958.6" r="4"/>
<circle cx="1538.1" cy="959.15" r="4"/>
<circle cx="1538.9" cy="960.4" r="4"/>
<circle cx="1532.7" cy="961.2" r="4"/>
<circle cx="1504.67" cy="964.54" r="4"/>
<circle cx="1516.87" cy="962" r="4"/>
<circle cx="1526.6" cy="964.54" r="4"/>
<circle cx="1536.9" cy="962.3" r="4"/>
<circle cx="1546.16" cy="962.8" r="4"/>
<circle cx="1557.1" cy="962.95" r="4"/>
</g>
<g fill="#be756b" stroke="#000" stroke-width="1.15">
<circle cx="1666.5" cy="596.25" r="4"/>
<circle cx="1669.5" cy="745.25" r="4"/>
<circle cx="1682.75" cy="892.5" r="4"/>
<circle cx="1706.5" cy="905" r="4"/>
<circle cx="1662.5" cy="919.25" r="4"/>
<circle cx="1663.25" cy="924" r="4"/>
<circle cx="1652" cy="927.75" r="4"/>
<circle cx="1684.5" cy="941.25" r="4"/>
<circle cx="1686" cy="950.75" r="4"/>
<circle cx="1681.5" cy="954" r="4"/>
<circle cx="1665" cy="956.25" r="4"/>
<circle cx="1658" cy="962.5" r="4"/>
<circle cx="1666" cy="961.75" r="4"/>
<circle cx="1674.5" cy="963.5" r="4"/>
<circle cx="1683" cy="964.5" r="4"/>
<circle cx="1697.25" cy="963" r="4"/>
</g>
<path d="M1530.6 589.25V577.25H1678.5V589.25" stroke="#000" stroke-width="1.5" fill="none"/>
</g>
<rect x="1442" y="558.25" width="325.3" height="426.25" fill="none" stroke="#2a2a2a" stroke-width="1.15"/>
<path d="M1438.6 607.5H1442M1438.6 696.75H1442M1438.6 787H1442M1438.6 876.25H1442M1438.6 966H1442M1530.4 984.5V987.9M1678.5 984.5V987.9" stroke="#1a1a1a" stroke-width="1.5" fill="none"/>
</g>
<text class="s" font-size="24.8" text-anchor="middle" transform="translate(1612.7 576.7) scale(0.93 1)">NS</text>
<g class="s" font-size="31.3" text-anchor="end">
<text transform="translate(1424.6 616.5) scale(1 1)">400</text>
<text transform="translate(1424.6 705.75) scale(1 1)">300</text>
<text transform="translate(1424.6 796) scale(1 1)">200</text>
<text transform="translate(1424.6 885.25) scale(1 1)">100</text>
<text transform="translate(1420.1 975) scale(1 1)">0</text>
</g>
<g class="s" font-size="30.8" text-anchor="middle">
<text transform="translate(1534.6 1014.9) scale(1.012 1)">ISS</text>
<text transform="translate(1686 1014.9) scale(1.012 1)">CON</text>
</g>
<text class="s" font-size="30.8" text-anchor="middle" transform="translate(1367.5 757.8) rotate(-90) scale(1.022 1.045)">caproate, μg/g</text>
<text class="b" font-size="30" transform="translate(1341.7 540.35) scale(0.96 1)">H</text>
</g>
</svg></body></html>
